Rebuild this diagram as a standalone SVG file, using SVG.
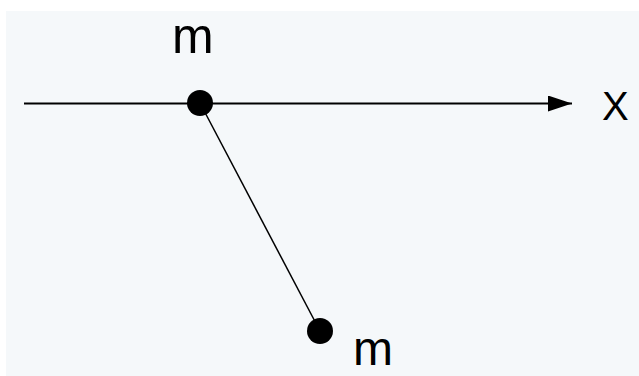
<svg xmlns="http://www.w3.org/2000/svg" width="639" height="376" viewBox="0 0 639 376">
  <style>
    .lbl { font-family: "Liberation Sans", Arial, sans-serif; fill: #000; }
    .dot { fill: #000; }
  </style>
  <defs>
    <marker id="arr" markerWidth="24" markerHeight="16" refX="24" refY="8" orient="auto" markerUnits="userSpaceOnUse">
      <path d="M0,0 L24,8 L0,16 Z" fill="#000"/>
    </marker>
  </defs>
  <rect x="0" y="0" width="639" height="376" fill="#ffffff"/>
  <rect x="6" y="11" width="633" height="365" fill="#f5f8fa"/>
  <g id="connectors">
    <line x1="24" y1="103.5" x2="572" y2="103.5" stroke="#000" stroke-width="2.2" marker-end="url(#arr)"/>
    <line x1="200" y1="103" x2="320" y2="331" stroke="#000" stroke-width="1.5"/>
  </g>
  <g id="mass1">
    <circle class="dot" cx="200" cy="103" r="13"/>
    <text class="lbl" x="172" y="53" font-size="50">m</text>
  </g>
  <g id="mass2">
    <circle class="dot" cx="320" cy="331" r="13"/>
    <text class="lbl" x="353" y="365" font-size="48">m</text>
  </g>
  <g id="axis-label">
    <text class="lbl" x="602" y="120" font-size="40">X</text>
  </g>
</svg>
